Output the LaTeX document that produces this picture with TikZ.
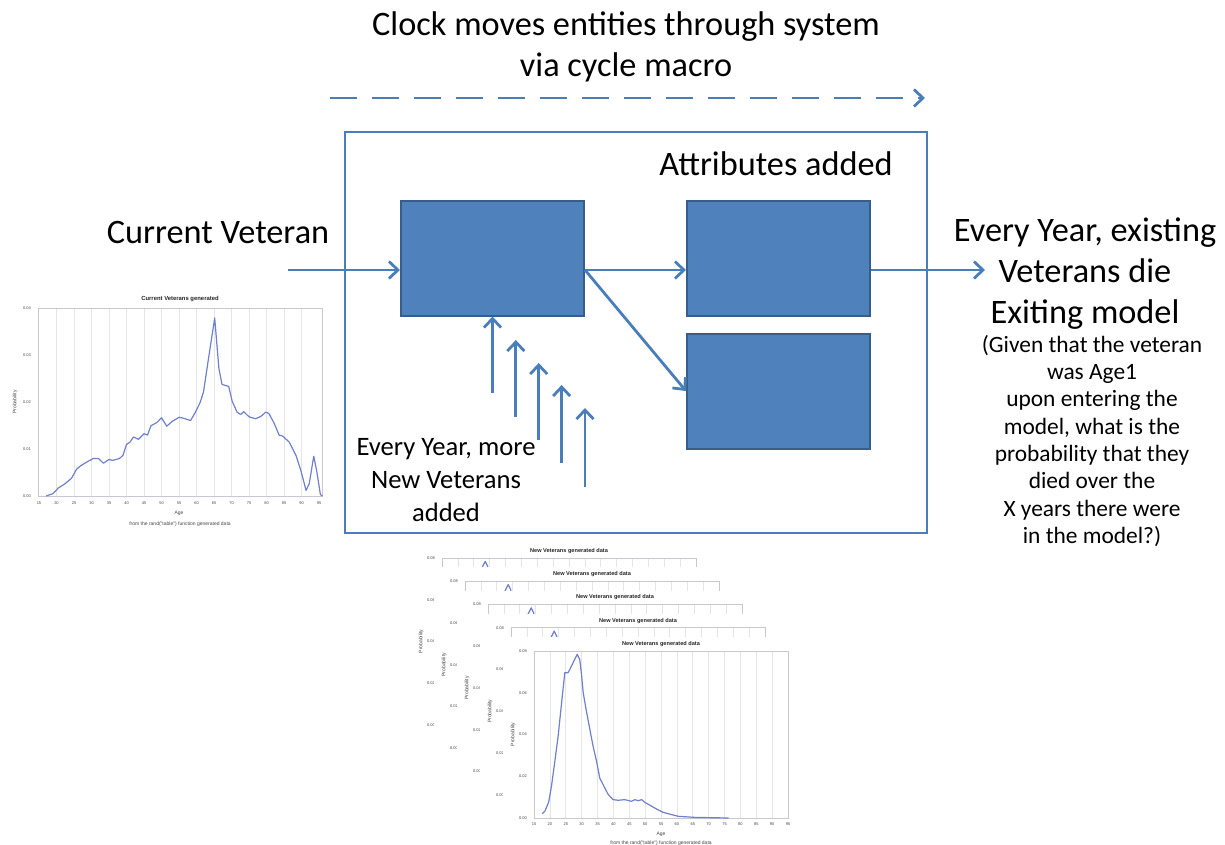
\documentclass[tikz,border=0pt]{standalone}
\usepackage{fontspec}
\setmainfont{Carlito}
\newfontfamily\chartfont{Liberation Sans}
\usetikzlibrary{arrows.meta}

\definecolor{boxfill}{HTML}{4F81BD}
\definecolor{boxedge}{HTML}{385D8A}
\definecolor{flow}{HTML}{4A7EBB}
\definecolor{plotblue}{RGB}{112,128,204}
\definecolor{gridc}{RGB}{228,228,234}
\definecolor{framec}{RGB}{200,200,210}
\definecolor{ticktext}{RGB}{70,70,70}

\tikzset{
  big/.style={font=\fontsize{34.3}{41}\selectfont, align=center, inner sep=0pt},
  mid/.style={font=\fontsize{26.6}{33}\selectfont, align=center, inner sep=0pt},
  small/.style={font=\fontsize{23.4}{27.3}\selectfont, align=center, inner sep=0pt},
  stage/.style={draw=boxedge, line width=2pt, fill=boxfill, minimum width=183pt,
    minimum height=115pt, inner sep=0pt},
  flowarrow/.style={draw=flow, line width=2.8pt,
    -{Straight Barb[length=9pt,width=17pt]}},
  ctitle/.style={font=\chartfont\bfseries\fontsize{5.6}{6}\selectfont, inner sep=0pt, text=black!85},
  ctick/.style={font=\chartfont\fontsize{4}{4.5}\selectfont, inner sep=0pt, text=ticktext},
  caxis/.style={font=\chartfont\fontsize{5}{5.5}\selectfont, inner sep=0pt, text=ticktext},
  ccapt/.style={font=\chartfont\fontsize{5}{5.5}\selectfont, inner sep=0pt, text=ticktext},
  gridline/.style={draw=gridc, line width=0.6pt},
  chartframe/.style={draw=framec, line width=0.8pt},
  density/.style={draw=plotblue, line width=1.2pt, line join=round},
}

\begin{document}
\begin{tikzpicture}[x=1pt, y=-1pt]
\useasboundingbox (0,0) rectangle (1225,845);

% ---------- clock ----------
\node[big] (clock) at (626,47) {Clock moves entities through system\\via cycle macro};
\coordinate (clkL) at (330,98);
\coordinate (clkR) at (925,98);
\draw[flowarrow, dash pattern=on 27pt off 15pt] (clkL) -- (clkR);

% ---------- system box and stages ----------
\node[draw=flow, line width=2.8pt, minimum width=582pt, minimum height=401pt,
      inner sep=0pt] (sys) at (636,332.5) {};
\node[big] (attr) at (776,164) {Attributes added};
\node[stage] (A) at (492.5,258) {};
\node[stage] (B) at (778.5,258) {};
\node[stage] (C) at (778.5,391) {};

\node[big] (cur) at (218,232) {Current Veteran};
\coordinate (inflow) at (288,270);
\coordinate (outflow) at (985,270);
\draw[flowarrow] (inflow) -- (inflow -| A.west);
\draw[flowarrow] (A.east |- inflow) -- (B.west |- inflow);
\draw[flowarrow] (A.east |- inflow) -- (C.west);
\draw[flowarrow] (B.east |- inflow) -- (outflow);

% new veterans entering every year
\coordinate (n1) at (492.5,393);
\coordinate (n2) at (515.8,417);
\coordinate (n3) at (538.7,440);
\coordinate (n4) at (561.6,463);
\coordinate (n5) at (585,487);
\coordinate (t2) at (515.8,340);
\coordinate (t3) at (538.7,363);
\coordinate (t4) at (561.6,385);
\coordinate (t5) at (585,408);
\draw[flowarrow] (n1) -- (n1 |- A.south);
\draw[flowarrow] (n2) -- (t2);
\draw[flowarrow] (n3) -- (t3);
\draw[flowarrow] (n4) -- (t4);
\draw[flowarrow] (n5) -- (t5);
\node[mid] (newv) at (446,480) {Every Year, more\\New Veterans\\added};

% exit text
\node[big] (exit) at (1085,274) {Every Year, existing\\Veterans die\\Exiting model};
\node[small] (note) at (1092,441) {(Given that the veteran\\was Age1\\upon entering the\\model, what is the\\probability that they\\died over the\\X years there were\\in the model?)};

% ---------- current veterans chart ----------
\begin{scope}[shift={(39,496)}]
  \foreach \g in {1,...,15} \draw[gridline] ({\g*17.5},0) -- ({\g*17.5},-187.4);
  \draw[chartframe] (-1,0) rectangle (283,-187.4);
  \foreach \v in {0,...,4} \node[ctick] (cy\v) at (-12,{-\v*46.85}) {0.0\v};
  \foreach \a [count=\i from 0] in {15,20,...,95} \node[ctick] (cx\i) at ({\i*17.5},7) {\a};
  \node[caxis] (cage) at (140,17) {Age};
  \node[ccapt] (ccap) at (141,28) {from the rand("table") function generated data};
  \node[ctitle, font=\chartfont\bfseries\fontsize{5.9}{6}\selectfont] (ctit) at (141,-197) {Current Veterans generated};
  \node[caxis, rotate=90] (cprob) at (-24,-94) {Probability};
  \begin{scope}[x=3.5pt, y=4.685pt, xshift=-52.5pt]
    \draw[density] plot coordinates {
      (17,0) (19,0.5) (20.5,1.7) (22.4,2.6) (24.3,3.8) (25.7,5.7) (27,6.5) (29,7.4)
      (30.5,8) (32,8) (33.4,7) (35,7.8) (36,7.6) (38,8) (39,8.7) (40,11) (41,11.5)
      (42,12.6) (43.4,12.1) (45,13.3) (46,13) (47,15) (48.7,15.7) (50,16.7)
      (51.5,14.9) (53,15.9) (55,16.8) (56.3,16.6) (58.3,16.1) (59.7,17.9) (61,19.9)
      (62,22.2) (63.5,29.7) (65.2,38) (66.4,27.2) (67.3,23.8) (69.2,23.4) (70.2,20.2)
      (71.6,17.9) (72.6,17.4) (73.5,18) (75,16.9) (76.9,16.5) (78.4,17) (79.8,17.9)
      (80.7,17.6) (82.2,15.5) (83.6,13) (84.6,12.8) (86.5,11.5) (88.4,8.7) (89.8,5.5)
      (91.3,1.2) (92.2,2.6) (93.5,8.5) (94.4,5.1) (95.4,0.3) (96,0)};
  \end{scope}
\end{scope}

% ---------- stack of new veterans charts (back to front) ----------
\foreach \k in {0,...,4} {
  \begin{scope}[shift={({442+23*\k},{725+23.25*\k})}]
    \fill[white] (-31,-181) rectangle (262,34);
    \foreach \g in {1,...,15} \draw[gridline] ({\g*15.875},0) -- ({\g*15.875},-167);
    \draw[chartframe] (0,0) rectangle (254,-167);
    \foreach \v/\t in {0/0.00,1/0.02,2/0.04,3/0.06,4/0.08}
      \node[ctick] (ny\k\v) at (-11,{-\v*41.75}) {\t};
    \node[ctitle] (ntit\k) at (127,-174) {New Veterans generated data};
    \node[caxis, rotate=90] (nprob\k) at (-21,-83.5) {Probability};
    \ifnum\k=4
      \foreach \a [count=\i from 0] in {15,20,...,95}
        \node[ctick] (nx\i) at ({\i*15.875},6) {\a};
      \node[caxis] (nage) at (127,16) {Age};
      \node[ccapt] (ncap) at (127,25) {from the rand("table") function generated data};
    \fi
    \begin{scope}[x=3.175pt, y=2.0875pt, xshift=-47.625pt]
      \draw[density] plot coordinates {
        (17.6,2.1) (18.4,3.2) (19.6,7.5) (20.5,15.2) (21.5,26.4) (22.6,39.2)
        (23.8,56.8) (24.7,69.6) (25.7,69.6) (26.3,71.2) (27.3,74.4) (28.6,78.4)
        (29.4,76) (29.9,69.6) (30.5,60) (31.5,51.2) (32.6,42.4) (33.6,34.4)
        (34.7,27.2) (35.7,19.2) (37.3,14.4) (38.4,11.2) (39.9,8.8) (41.5,8.5)
        (43.6,8.8) (45.7,8) (46.8,8.8) (47.8,8.3) (48.9,8.8) (49.9,7.5) (52.1,5.6)
        (53.6,4.3) (55.7,2.7) (58.4,1.6) (60.5,0.8) (65.7,0.3) (76.3,0)};
    \end{scope}
  \end{scope}
}
\end{tikzpicture}
\end{document}
